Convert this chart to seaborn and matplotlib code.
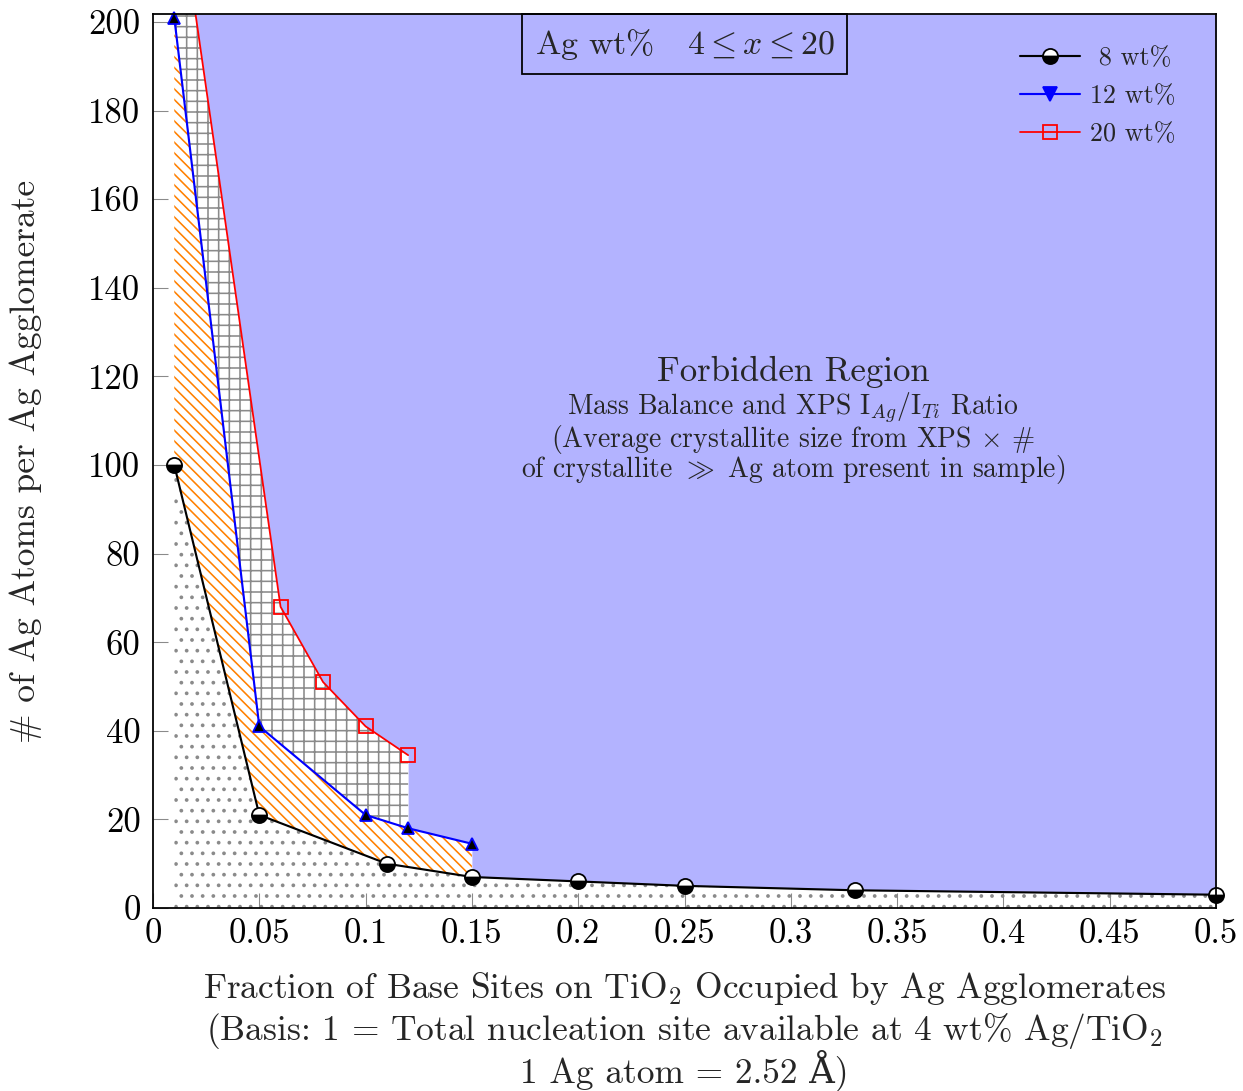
import numpy as np
import pandas as pd
import matplotlib
matplotlib.use("Agg")
import matplotlib.pyplot as plt
import seaborn as sns
from matplotlib.lines import Line2D

# ---------------- data ----------------
x8 = [0.01, 0.05, 0.11, 0.15, 0.20, 0.25, 0.33, 0.50]
y8 = [100, 21, 10, 7, 6, 5, 4, 3]
x12 = [0.01, 0.05, 0.10, 0.12, 0.15]
y12 = [201, 41, 21, 18, 14.5]
x20 = [0.02, 0.06, 0.08, 0.10, 0.12]
y20 = [201.8, 68, 51, 41, 34.5]
series_labels = [" 8 wt%", "12 wt%", "20 wt%"]
xtick_vals = [0, 0.05, 0.10, 0.15, 0.20, 0.25, 0.30, 0.35, 0.40, 0.45, 0.50]
xtick_labels = ["0", "0.05", "0.1", "0.15", "0.2", "0.25", "0.3", "0.35", "0.4", "0.45", "0.5"]
ytick_vals = [0, 20, 40, 60, 80, 100, 120, 140, 160, 180, 200]
XMAX = 0.5
YMAX = 201.8

# ---------------- style ----------------
sns.set_theme(style="white")
plt.rcParams.update({
    "font.family": ["cmr10", "DejaVu Serif"],
    "mathtext.fontset": "cm",
    "axes.unicode_minus": False,
    "hatch.linewidth": 0.9,
    "axes.formatter.use_mathtext": True,
})

DPI = 128
W, H = 1243, 1091
fig = plt.figure(figsize=(W / DPI, H / DPI), dpi=DPI)
ax = fig.add_axes([153 / W, 1 - 908 / H, (1216 - 153) / W, (908 - 14) / H])
ax.set_facecolor("white")
ax.set_axisbelow(True)
ax.grid(False)

BLUE_FILL = "#b3b3ff"
ORANGE = "#ff8000"
GREY = "#8a8a8a"

# ---------------- regions ----------------
# forbidden region (above the upper envelope)
ux = list(x20) + [x for x in x12 if x >= x20[-1]] + [x for x in x8 if x >= x12[-1]]
uy = list(y20) + [y for x, y in zip(x12, y12) if x >= x20[-1]] + [y for x, y in zip(x8, y8) if x >= x12[-1]]
ax.fill_between(ux, uy, YMAX, facecolor=BLUE_FILL, linewidth=0, zorder=1)

# crosshatch between 12 wt% and 20 wt%
gx = np.array(sorted(set([x for x in x12 if x <= x20[-1]]) | set(x20)))
g_lo = np.interp(gx, x12, y12)
g_hi = np.minimum(np.interp(gx, x20, y20), YMAX)
ax.fill_between(gx, g_lo, g_hi, facecolor="none", edgecolor=GREY, hatch="++",
                linewidth=0, zorder=1.2)

# diagonal lines between 8 wt% and 12 wt%
ox = np.array(sorted(set([x for x in x8 if x <= x12[-1]]) | set(x12)))
o_lo = np.interp(ox, x8, y8)
o_hi = np.interp(ox, x12, y12)
ax.fill_between(ox, o_lo, o_hi, facecolor="none", edgecolor=ORANGE, hatch="\\\\\\\\",
                linewidth=0, zorder=1.2)

# dots below 8 wt%
ax.fill_between(x8, 0, y8, facecolor="none", edgecolor=GREY, hatch="..",
                linewidth=0, zorder=1.2)

# ---------------- lines ----------------
df8 = pd.DataFrame({"x": x8, "y": y8})
df12 = pd.DataFrame({"x": x12, "y": y12})
df20 = pd.DataFrame({"x": x20, "y": y20})

sns.lineplot(data=df20, x="x", y="y", ax=ax, estimator=None, sort=False, legend=False,
             color="red", lw=1.0, marker="s", ms=7.5, mfc="none", mec="red", mew=1.0,
             markevery=list(range(1, len(x20))), zorder=4)
sns.lineplot(data=df12, x="x", y="y", ax=ax, estimator=None, sort=False, legend=False,
             color="blue", lw=1.2, marker="^", ms=6.8, mfc="black", mec="blue", mew=1.0,
             clip_on=False, zorder=5)
sns.lineplot(data=df8, x="x", y="y", ax=ax, estimator=None, sort=False, legend=False,
             color="black", lw=1.2, marker="o", ms=8.5, fillstyle="bottom",
             mfc="black", mfcalt="white", mec="black", mew=1.0, clip_on=False, zorder=6)

# ---------------- axes ----------------
ax.set_xlim(0, XMAX)
ax.set_ylim(0, YMAX)
ax.set_xticks(xtick_vals)
ax.set_xticklabels(xtick_labels)
ax.set_yticks(ytick_vals)
ax.set_yticklabels([str(v) for v in ytick_vals])
ax.tick_params(axis="both", direction="in", length=8.4, width=0.6, color=GREY,
               labelsize=19.5, labelcolor="black", bottom=True, left=True,
               top=False, right=False)
ax.tick_params(axis="x", pad=6)
ax.tick_params(axis="y", pad=7)
ax.set_xlabel("")
ax.set_ylabel("")
for s in ax.spines.values():
    s.set_visible(True)
    s.set_color("black")
    s.set_linewidth(1.0)
    s.set_zorder(7)

# ---------------- legend ----------------
h8 = Line2D([], [], color="black", lw=1.2, marker="o", ms=8.5, fillstyle="bottom",
            mfc="black", mfcalt="white", mec="black", mew=1.0)
h12 = Line2D([], [], color="blue", lw=1.2, marker="v", ms=7.5, mfc="blue", mec="blue")
h20 = Line2D([], [], color="red", lw=1.0, marker="s", ms=7.5, mfc="none", mec="red", mew=1.0)
leg = ax.legend([h8, h12, h20], series_labels, loc="upper left",
                bbox_to_anchor=((1020 - 153) / 1063, (908 - 46) / 894),
                frameon=False, fontsize=14.7, handlelength=2.3, handletextpad=0.38,
                labelspacing=0.56, borderpad=0, borderaxespad=0)
leg.set_zorder(8)

# ---------------- annotations ----------------
ax.text(0.5, (908 - 44) / 894, r"Ag wt%   $4 \leq x \leq 20$", transform=ax.transAxes,
        ha="center", va="center", fontsize=19, zorder=8,
        bbox=dict(boxstyle="square,pad=0.38", fc="none", ec="black", lw=1.0))

cx = 0.602
ax.text(cx, (908 - 381) / 894, "Forbidden Region", transform=ax.transAxes,
        ha="center", va="baseline", fontsize=19.6, zorder=8)
ax.text(cx, (908 - 477) / 894,
        "Mass Balance and XPS I$_{Ag}$/I$_{Ti}$ Ratio\n"
        "(Average crystallite size from XPS $\\times$ #\n"
        "of crystallite $\\gg$ Ag atom present in sample)",
        transform=ax.transAxes, ha="center", va="baseline", multialignment="center",
        linespacing=0.88, fontsize=15.6, zorder=8)

# axis labels
xc = (153 + 1216) / 2 / W
fig.text(xc, 1 - 998 / H, r"Fraction of Base Sites on TiO$_2$ Occupied by Ag Agglomerates",
         ha="center", va="baseline", fontsize=19.9)
fig.text(xc, 1 - 1040 / H, r"(Basis: 1 = Total nucleation site available at 4 wt% Ag/TiO$_2$",
         ha="center", va="baseline", fontsize=19.9)
fig.text(xc, 1 - 1082 / H, "1 Ag atom = 2.52 Å)",
         ha="center", va="baseline", fontsize=19.9)
fig.text(26 / W, 1 - 461 / H, "# of Ag Atoms per Ag Agglomerate", rotation=90,
         ha="center", va="center", fontsize=19.9)

fig.savefig("out.png", dpi=DPI)
